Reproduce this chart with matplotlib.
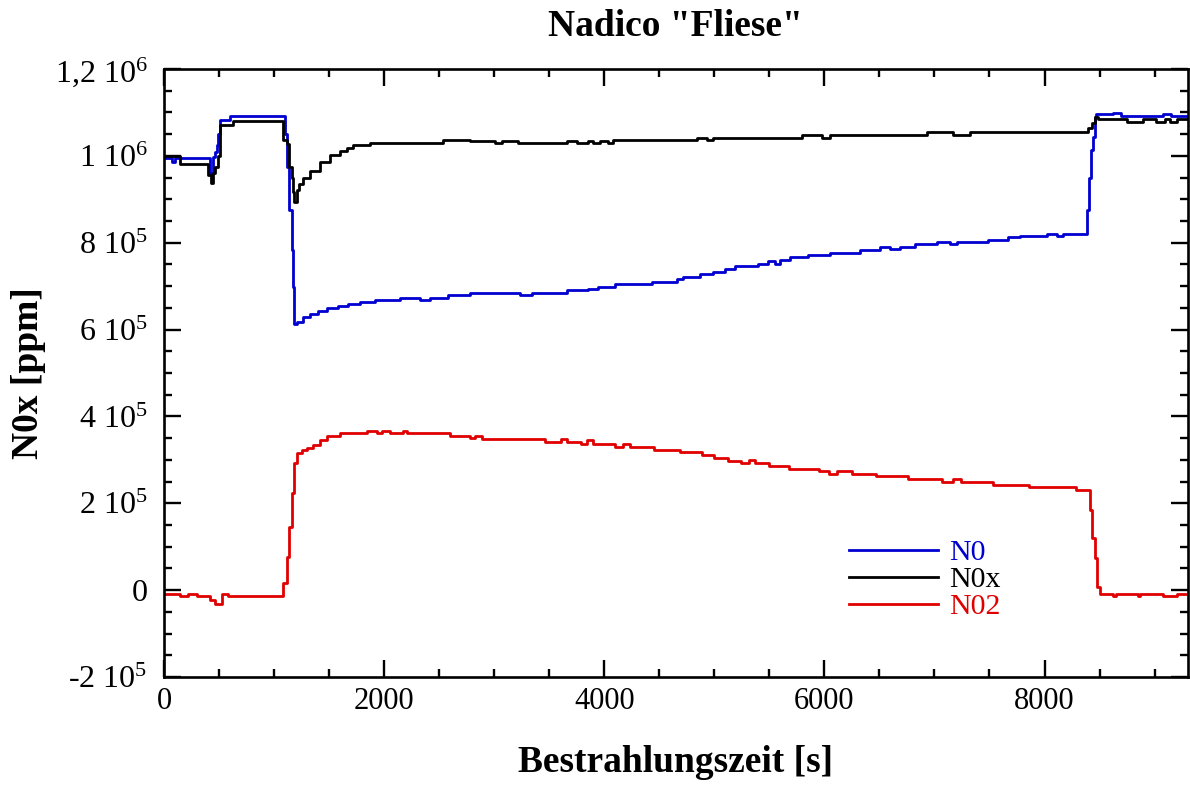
import numpy as np
import matplotlib
matplotlib.use("Agg")
import matplotlib.pyplot as plt
from matplotlib.ticker import FixedLocator, FixedFormatter, MultipleLocator

plt.rcParams['font.family'] = ['Liberation Serif', 'DejaVu Serif']
plt.rcParams['mathtext.fontset'] = 'custom'
plt.rcParams['mathtext.rm'] = 'Liberation Serif'
plt.rcParams['mathtext.it'] = 'Liberation Serif:italic'
plt.rcParams['mathtext.bf'] = 'Liberation Serif:bold'

# step data: time [s] where each level starts, value in 1e5 ppm
n0_t = [0, 75, 100, 418, 445, 463, 479, 490, 509, 599, 1099, 1114, 1138, 1160, 1169,
        1183, 1205, 1265, 1326, 1401, 1477, 1583, 1674, 1780, 1916, 2143, 2325, 2416,
        2582, 2779, 3233, 3342, 3660, 3851, 3942, 4096, 4432, 4659, 4713, 4868, 4986,
        5095, 5186, 5395, 5485, 5549, 5594, 5685, 5849, 6049, 6321, 6503, 6594, 6684,
        6821, 7021, 7138, 7202, 7484, 7665, 7774, 8019, 8110, 8165, 8383, 8404, 8425,
        8440, 8455, 8471, 8619, 8698, 9073, 9152, 9300]
n0_v = [9.94, 9.87, 9.94, 9.60, 9.98, 10.10, 10.25, 10.50, 10.82, 10.91, 10.50, 9.75,
        8.75, 7.83, 6.98, 6.12, 6.18, 6.28, 6.35, 6.42, 6.49, 6.55, 6.60, 6.64, 6.68,
        6.72, 6.69, 6.72, 6.79, 6.85, 6.79, 6.85, 6.91, 6.94, 6.97, 7.05, 7.10, 7.16,
        7.22, 7.28, 7.33, 7.40, 7.47, 7.52, 7.58, 7.52, 7.60, 7.67, 7.71, 7.77, 7.83,
        7.89, 7.85, 7.90, 7.96, 8.02, 7.98, 8.02, 8.07, 8.12, 8.15, 8.21, 8.15, 8.21,
        8.75, 9.49, 10.13, 10.44, 10.90, 10.96, 10.98, 10.91, 10.96, 10.91, 10.91]

n0x_t = [0, 145, 400, 430, 445, 463, 490, 509, 627, 1081, 1120, 1138, 1160, 1174, 1183,
         1205, 1229, 1265, 1326, 1417, 1508, 1599, 1659, 1719, 1871, 2534, 2779, 3006,
         3070, 3215, 3660, 3751, 3851, 3896, 3960, 4032, 4078, 4841, 4932, 4986, 5794,
         5976, 6049, 6566, 6930, 7166, 7320, 8392, 8428, 8455, 8483, 8746, 8891, 9009,
         9091, 9137, 9200, 9300]
n0x_v = [9.99, 9.82, 9.56, 9.37, 9.60, 9.75, 10.00, 10.71, 10.80, 10.36, 10.28, 9.75,
         9.48, 9.17, 8.94, 9.21, 9.36, 9.49, 9.65, 9.86, 10.02, 10.12, 10.17, 10.25,
         10.30, 10.36, 10.35, 10.29, 10.35, 10.29, 10.35, 10.29, 10.35, 10.29, 10.35,
         10.29, 10.36, 10.42, 10.36, 10.42, 10.48, 10.42, 10.48, 10.49, 10.54, 10.48,
         10.54, 10.63, 10.75, 10.90, 10.84, 10.78, 10.84, 10.78, 10.84, 10.78, 10.84,
         10.84]

n02_t = [0, 145, 218, 300, 418, 463, 527, 581, 1081, 1117, 1135, 1163, 1181, 1208, 1253,
         1299, 1353, 1417, 1480, 1598, 1844, 1934, 1980, 2053, 2171, 2207, 2597, 2779,
         2830, 2888, 3460, 3606, 3660, 3787, 3842, 3896, 4096, 4169, 4232, 4450, 4686,
         4886, 4995, 5122, 5240, 5313, 5368, 5495, 5676, 5949, 6040, 6112, 6248, 6466,
         6757, 7066, 7166, 7238, 7529, 7856, 8283, 8410, 8434, 8455, 8476, 8501, 8620,
         8646, 8846, 8870, 9073, 9200, 9300]
n02_v = [-0.08, -0.14, -0.08, -0.14, -0.23, -0.31, -0.10, -0.13, 0.16, 0.77, 1.46, 2.23,
         2.92, 3.15, 3.22, 3.28, 3.35, 3.45, 3.55, 3.61, 3.66, 3.61, 3.66, 3.61, 3.66,
         3.61, 3.55, 3.50, 3.55, 3.48, 3.42, 3.48, 3.42, 3.36, 3.45, 3.36, 3.29, 3.36,
         3.29, 3.23, 3.17, 3.11, 3.05, 2.98, 2.92, 3.00, 2.92, 2.86, 2.80, 2.74, 2.67,
         2.74, 2.68, 2.62, 2.56, 2.49, 2.55, 2.49, 2.43, 2.37, 2.31, 1.84, 1.20, 0.74,
         0.07, -0.08, -0.14, -0.08, -0.14, -0.08, -0.14, -0.08, -0.08]

y_ticks = [-2e5, 0, 2e5, 4e5, 6e5, 8e5, 1e6, 1.2e6]
y_labels = ['-2 10$^{5}$', '0', '2 10$^{5}$', '4 10$^{5}$', '6 10$^{5}$',
            '8 10$^{5}$', '1 10$^{6}$', '1,2 10$^{6}$']
x_ticks = [0, 2000, 4000, 6000, 8000]

fig = plt.figure(figsize=(11.9, 7.85), dpi=100)
ax = fig.add_axes([0.1378, 0.1376, 0.8602, 0.7745])

lw = 2.0
ax.step(n0_t, np.array(n0_v) * 1e5, where='post', color='#0000d0', lw=lw, label='N0')
ax.step(n0x_t, np.array(n0x_v) * 1e5, where='post', color='black', lw=lw, label='N0x')
ax.step(n02_t, np.array(n02_v) * 1e5, where='post', color='#e00000', lw=lw, label='N02')

ax.set_xlim(0, 9300)
ax.set_ylim(-2e5, 1.2e6)

ax.xaxis.set_major_locator(FixedLocator(x_ticks))
ax.xaxis.set_minor_locator(MultipleLocator(500))
ax.yaxis.set_major_locator(FixedLocator(y_ticks))
ax.yaxis.set_major_formatter(FixedFormatter(y_labels))
ax.yaxis.set_minor_locator(MultipleLocator(5e4))

ax.tick_params(which='both', direction='in', top=True, right=True, width=1.7)
ax.tick_params(which='major', length=12.5)
ax.tick_params(which='minor', length=6)
ax.tick_params(axis='y', which='major', pad=12, labelsize=23)
ax.tick_params(axis='x', which='major', pad=7, labelsize=22)
for s in ax.spines.values():
    s.set_linewidth(1.9)

ax.set_title('Nadico "Fliese"', fontsize=27, fontweight='bold', pad=24)
ax.set_xlabel('Bestrahlungszeit [s]', fontsize=27, fontweight='bold', labelpad=21)
ax.set_ylabel('N0x [ppm]', fontsize=27, fontweight='bold', labelpad=6)

ax.legend(loc='upper left', bbox_to_anchor=(0.669, 0.226), frameon=False, fontsize=21.5,
          handlelength=3.0, handletextpad=0.35, labelspacing=0.0, labelcolor='linecolor',
          borderpad=0, borderaxespad=0)

fig.savefig('out.png', dpi=100)
